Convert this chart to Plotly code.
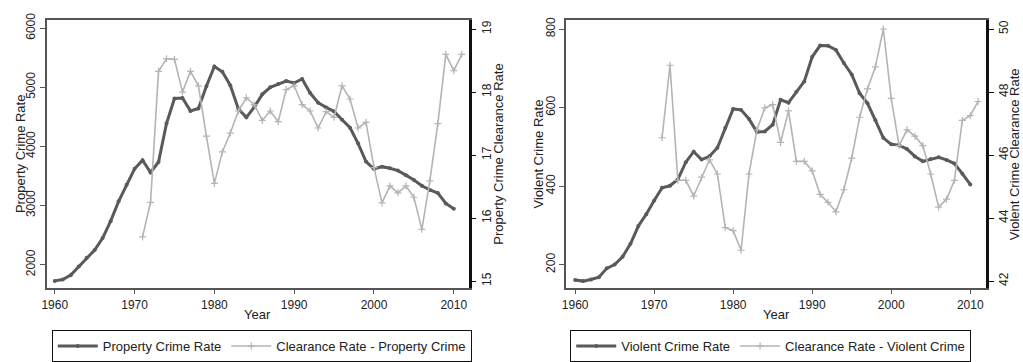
import plotly.graph_objects as go

years = list(range(1960, 2011))
clr_years = list(range(1971, 2012))

property_rate = [1726, 1748, 1823, 1968, 2117, 2249, 2450, 2736, 3071, 3351,
                 3622, 3768, 3560, 3737, 4389, 4811, 4820, 4601, 4643, 5017,
                 5353, 5264, 5032, 4637, 4492, 4666, 4881, 5000, 5054, 5107,
                 5073, 5140, 4903, 4740, 4660, 4591, 4451, 4316, 4053, 3744,
                 3618, 3658, 3631, 3591, 3514, 3432, 3335, 3264, 3212, 3036,
                 2946]

property_clearance = [15.70, 16.25, 18.33, 18.53, 18.52, 18.00, 18.33, 18.10, 17.30, 16.55,
                      17.05, 17.35, 17.70, 17.91, 17.80, 17.55, 17.70, 17.53, 18.04, 18.10,
                      17.80, 17.70, 17.43, 17.69, 17.60, 18.10, 17.89, 17.43, 17.52, 16.80,
                      16.24, 16.51, 16.40, 16.51, 16.33, 15.82, 16.59, 17.50, 18.60, 18.34,
                      18.60]

violent_rate = [160.9, 158.1, 162.3, 168.2, 190.6, 200.2, 220.0, 253.2, 298.4, 328.7,
                363.5, 396.0, 401.0, 417.4, 461.1, 487.8, 467.8, 475.9, 497.8, 548.9,
                596.6, 594.3, 571.1, 537.7, 539.2, 556.6, 620.1, 612.5, 640.6, 666.9,
                729.6, 758.2, 757.7, 747.1, 713.6, 684.5, 636.6, 611.0, 567.6, 523.0,
                506.5, 504.5, 494.4, 475.8, 463.2, 469.0, 473.6, 466.9, 457.5, 431.9,
                404.5]

violent_clearance = [46.55, 48.85, 45.20, 45.20, 44.70, 45.30, 45.85, 45.40, 43.70, 43.60,
                     42.98, 45.40, 46.80, 47.50, 47.60, 46.40, 47.40, 45.80, 45.80, 45.50,
                     44.75, 44.50, 44.20, 44.90, 45.90, 47.20, 48.10, 48.80, 50.00, 47.80,
                     46.30, 46.80, 46.60, 46.30, 45.40, 44.35, 44.60, 45.20, 47.10, 47.25,
                     47.70]

x_ticks = [1960, 1970, 1980, 1990, 2000, 2010]
prop_ticks = [2000, 3000, 4000, 5000, 6000]
prop_clr_ticks = [15, 16, 17, 18, 19]
viol_ticks = [200, 400, 600, 800]
viol_clr_ticks = [42, 44, 46, 48, 50]

W, H = 1023, 362
DARK = "#5a5a5a"
LIGHT = "#b4b4b4"
TXT = "#222222"
FONT = "Liberation Sans, Arial, sans-serif"

def px_x(p):
    return p / W

def px_y(p):
    return 1 - p / H

fig = go.Figure()

dark_style = dict(mode="lines+markers", line=dict(color=DARK, width=3),
                  marker=dict(symbol="circle", size=4, color=DARK))
light_style = dict(mode="lines+markers", line=dict(color=LIGHT, width=1.6),
                   marker=dict(symbol="cross-thin", size=5,
                               line=dict(color=LIGHT, width=1.2), color=LIGHT))

fig.add_trace(go.Scatter(x=years, y=property_rate, name="Property Crime Rate",
                         xaxis="x", yaxis="y", legend="legend", **dark_style))
fig.add_trace(go.Scatter(x=clr_years, y=property_clearance,
                         name="Clearance Rate - Property Crime",
                         xaxis="x", yaxis="y2", legend="legend", **light_style))
fig.add_trace(go.Scatter(x=years, y=violent_rate, name="Violent Crime Rate",
                         xaxis="x2", yaxis="y3", legend="legend2", **dark_style))
fig.add_trace(go.Scatter(x=clr_years, y=violent_clearance,
                         name="Clearance Rate - Violent Crime",
                         xaxis="x2", yaxis="y4", legend="legend2", **light_style))

ydom = [px_y(291), px_y(13)]
tickfont = dict(family=FONT, size=12, color=TXT)

xcommon = dict(tickvals=x_ticks, ticks="outside", ticklen=5, tickcolor="#555",
               showline=True, linecolor="#555", linewidth=1.5, mirror=True,
               showgrid=False, zeroline=False, tickfont=tickfont)
yleft = dict(ticks="outside", ticklen=5, tickcolor="#555", showline=True,
             linecolor="#555", linewidth=1.5, showgrid=False, zeroline=False,
             tickangle=-90, tickfont=tickfont, domain=ydom)
yright = dict(ticks="outside", ticklen=5, tickcolor="#111", showline=True,
              linecolor="#111", linewidth=2.5, showgrid=False, zeroline=False,
              tickangle=-90, tickfont=tickfont, side="right")

legend_common = dict(orientation="h", xanchor="left", yanchor="top",
                     bordercolor="#111", borderwidth=1, itemwidth=40,
                     font=dict(family=FONT, size=13, color=TXT), tracegroupgap=0)

fig.update_layout(
    width=W, height=H,
    margin=dict(l=0, r=0, t=0, b=0),
    paper_bgcolor="white", plot_bgcolor="white",
    font=dict(family=FONT, size=13, color=TXT),
    xaxis=dict(domain=[px_x(42), px_x(466)], range=[1959.0, 2011.87], anchor="y", **xcommon),
    yaxis=dict(range=[1610, 6130], tickvals=prop_ticks, anchor="x", **yleft),
    yaxis2=dict(range=[14.893, 19.137], tickvals=prop_clr_ticks, anchor="x",
                overlaying="y", **yright),
    xaxis2=dict(domain=[px_x(564), px_x(986)], range=[1958.87, 2012.02], anchor="y3", **xcommon),
    yaxis3=dict(range=[141.2, 822], tickvals=viol_ticks, anchor="x2", **yleft),
    yaxis4=dict(range=[41.79, 50.27], tickvals=viol_clr_ticks, anchor="x2",
                overlaying="y3", **yright),
    legend=dict(x=px_x(47), y=px_y(335), **legend_common),
    legend2=dict(x=px_x(568), y=px_y(335), **legend_common),
    showlegend=True,
)

def title(text, x, y, angle=0):
    fig.add_annotation(text=text, x=px_x(x), y=px_y(y), xref="paper", yref="paper",
                       showarrow=False, textangle=angle, xanchor="center", yanchor="middle",
                       font=dict(family=FONT, size=13, color=TXT))

title("Property Crime Rate", 15, 152, -90)
title("Property Crime Clearance Rate", 496, 152, -90)
title("Year", 254, 319)
title("Violent Crime Rate", 536, 152, -90)
title("Violent Crime Clearance Rate", 1014, 152, -90)
title("Year", 775, 319)

fig.write_html("out.html")
